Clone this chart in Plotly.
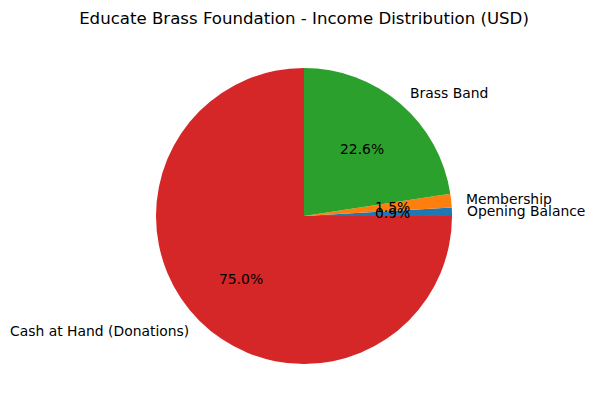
import math
import plotly.graph_objects as go

categories = ["Opening Balance", "Membership", "Brass Band", "Cash at Hand (Donations)"]
values = [150, 250, 3750, 12450]
colors = ["#1f77b4", "#ff7f0e", "#2ca02c", "#d62728"]
title = "Educate Brass Foundation - Income Distribution (USD)"

W, H = 595, 411
cx, cy, R = 304, 216, 148
ml, mt = cx - R, cy - R
mr, mb = W - ml - 2 * R, H - mt - 2 * R
total = sum(values)

fig = go.Figure(go.Pie(
    labels=categories, values=values, sort=False,
    direction="counterclockwise", rotation=90 - 360 * values[0] / total,
    marker=dict(colors=colors, line=dict(width=0)),
    textinfo="none", showlegend=False, hole=0,
))

font = dict(family="DejaVu Sans", size=13.9, color="black")
start = 0.0
for lab, v in zip(categories, values):
    frac = v / total
    mid = math.radians((start + frac / 2) * 360)
    start += frac
    c, s = math.cos(mid), math.sin(mid)
    right = c > 0
    fig.add_annotation(x=0.5 + 0.5 * 1.1 * c, y=0.5 + 0.5 * 1.1 * s, xref="paper", yref="paper",
                       text=lab, showarrow=False, xanchor="left" if right else "right",
                       xshift=-2 if right else 2,
                       yanchor="middle", font=font)
    fig.add_annotation(x=0.5 + 0.5 * 0.6 * c, y=0.5 + 0.5 * 0.6 * s, xref="paper", yref="paper",
                       text=f"{frac*100:.1f}%", showarrow=False, xanchor="center",
                       yanchor="middle", font=font)

fig.update_layout(
    width=W, height=H,
    margin=dict(l=ml, r=mr, t=mt, b=mb, pad=0),
    paper_bgcolor="white", plot_bgcolor="white",
    title=dict(text=title, x=cx / W, xanchor="center", y=1 - 18 / H, yanchor="middle",
               font=dict(family="DejaVu Sans", size=16.6, color="black")),
)
fig.write_html("out.html", config={"displayModeBar": False},
               post_script="document.body.style.margin='0px';")
